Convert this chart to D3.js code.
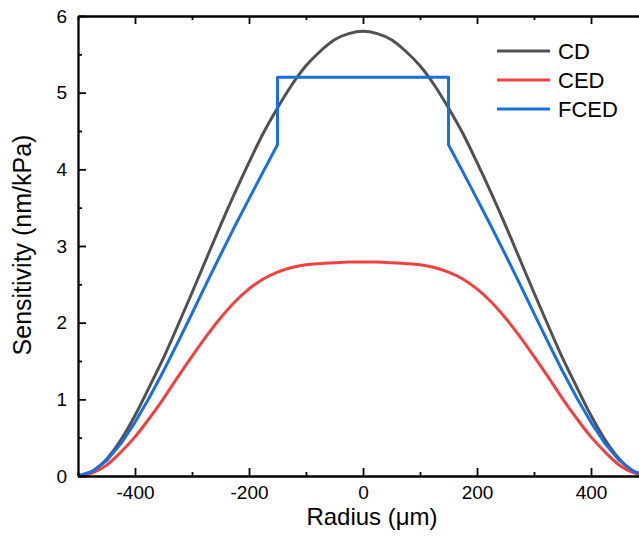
<!DOCTYPE html>
<html>
<head>
<meta charset="utf-8">
<script src="https://cdn.jsdelivr.net/npm/d3@7"></script>
<style>
  body { margin: 0; background: #fff; }
  svg { display: block; font-family: "Liberation Sans", Arial, sans-serif; }
</style>
</head>
<body>
<svg id="chart" width="639" height="547"></svg>
<script>
// radius grid (um) for CD and CED
const radius = [-500,-475,-450,-425,-400,-375,-350,-325,-300,-275,-250,-225,-200,-175,-150,-125,-100,-75,-50,-25,
  0,25,50,75,100,125,150,175,200,225,250,275,300,325,350,375,400,425,450,475,500];

const cd = [0.00,0.06,0.22,0.47,0.79,1.16,1.54,1.96,2.39,2.83,3.27,3.69,4.09,4.47,4.80,5.10,5.35,5.54,5.69,5.77,
  5.80,5.77,5.69,5.54,5.35,5.10,4.80,4.47,4.09,3.69,3.27,2.83,2.39,1.96,1.54,1.16,0.79,0.47,0.22,0.06,0.00];

const ced = [0.00,0.04,0.14,0.31,0.51,0.75,1.01,1.29,1.56,1.82,2.06,2.27,2.44,2.57,2.66,2.72,2.755,2.77,2.78,2.79,
  2.79,2.79,2.78,2.77,2.755,2.72,2.66,2.57,2.44,2.27,2.06,1.82,1.56,1.29,1.01,0.75,0.51,0.31,0.14,0.04,0.00];

// FCED has its own grid: flat top between the two steps at +-150
const fcedRadius = [-500,-475,-450,-425,-400,-375,-350,-325,-300,-275,-250,-225,-200,-175,-150,-150,
  150,150,175,200,225,250,275,300,325,350,375,400,425,450,475,500];
const fced = [0.00,0.06,0.20,0.42,0.70,1.02,1.37,1.74,2.12,2.505,2.885,3.255,3.615,3.97,4.32,5.20,
  5.20,4.32,3.97,3.615,3.255,2.885,2.505,2.12,1.74,1.37,1.02,0.70,0.42,0.20,0.06,0.00];

const xMajor = [-400,-200,0,200,400];
const xMinor = [-500,-300,-100,100,300,500];
const yMajor = [0,1,2,3,4,5,6];
const yMinor = [0.5,1.5,2.5,3.5,4.5,5.5];

const seriesNames = ["CD","CED","FCED"];
const seriesColors = ["#515151","#F14040","#1A6FDF"];

const svg = d3.select("#chart");
const m = {left: 78, right: 648, top: 16, bottom: 476};

const x = d3.scaleLinear().domain([-500,500]).range([m.left,m.right]);
const y = d3.scaleLinear().domain([0,6]).range([m.bottom,m.top]);

const line = d3.line()
  .x(d => x(d[0]))
  .y(d => y(d[1]));

const series = [
  {name: "CD", pts: d3.zip(radius, cd), curve: d3.curveMonotoneX},
  {name: "CED", pts: d3.zip(radius, ced), curve: d3.curveMonotoneX},
  {name: "FCED", pts: d3.zip(fcedRadius, fced), curve: d3.curveLinear}
];

svg.append("g")
  .selectAll("path")
  .data(series)
  .enter().append("path")
  .attr("fill", "none")
  .attr("stroke", (d, i) => seriesColors[i])
  .attr("stroke-width", 3)
  .attr("stroke-linejoin", "round")
  .attr("d", d => line.curve(d.curve)(d.pts));

// axes, ticks pointing inward
function styleAxis(g, size) {
  g.attr("font-family", null);
  g.selectAll(".domain").attr("stroke", "#000").attr("stroke-width", 1.8);
  g.selectAll(".tick line").attr("stroke", "#000").attr("stroke-width", 1.8);
  g.selectAll(".tick text").attr("fill", "#000").style("font-size", size + "px");
}

const xAxis = svg.append("g")
  .attr("transform", "translate(0," + m.bottom + ")")
  .call(d3.axisBottom(x).tickValues(xMajor).tickSize(-8).tickSizeOuter(0).tickPadding(10)
    .tickFormat(d => d < 0 ? "-" + Math.abs(d) : String(d)));
styleAxis(xAxis, 19);

svg.append("g")
  .attr("transform", "translate(0," + m.bottom + ")")
  .call(d3.axisBottom(x).tickValues(xMinor).tickSize(-4).tickSizeOuter(0).tickFormat(""))
  .call(g => styleAxis(g, 19));

const yAxis = svg.append("g")
  .attr("transform", "translate(" + m.left + ",0)")
  .call(d3.axisLeft(y).tickValues(yMajor).tickSize(-8).tickSizeOuter(0).tickPadding(11)
    .tickFormat(d3.format("d")));
styleAxis(yAxis, 19);

svg.append("g")
  .attr("transform", "translate(" + m.left + ",0)")
  .call(d3.axisLeft(y).tickValues(yMinor).tickSize(-4).tickSizeOuter(0).tickFormat(""))
  .call(g => styleAxis(g, 19));

// top and right frame
svg.append("g")
  .attr("transform", "translate(0," + m.top + ")")
  .call(d3.axisTop(x).tickValues(xMajor).tickSize(-8).tickSizeOuter(0).tickFormat(""))
  .call(g => styleAxis(g, 19));
svg.append("g")
  .attr("transform", "translate(0," + m.top + ")")
  .call(d3.axisTop(x).tickValues(xMinor).tickSize(-4).tickSizeOuter(0).tickFormat(""))
  .call(g => styleAxis(g, 19));
svg.append("g")
  .attr("transform", "translate(" + m.right + ",0)")
  .call(d3.axisRight(y).tickValues(yMajor).tickSize(-8).tickSizeOuter(0).tickFormat(""))
  .call(g => styleAxis(g, 19));

// titles
svg.append("text")
  .attr("x", 372)
  .attr("y", 525)
  .attr("text-anchor", "middle")
  .style("font-size", "24px")
  .text("Radius (μm)");

svg.append("text")
  .attr("transform", "translate(31," + (y(3) - 1) + ") rotate(-90)")
  .attr("text-anchor", "middle")
  .style("font-size", "25px")
  .text("Sensitivity (nm/kPa)");

// legend
const legend = svg.append("g")
  .selectAll("g")
  .data(seriesNames)
  .enter().append("g")
  .attr("transform", (d, i) => "translate(497," + (51 + i * 29) + ")");

legend.append("line")
  .attr("x1", 0).attr("x2", 53)
  .attr("stroke", (d, i) => seriesColors[i])
  .attr("stroke-width", 3);

legend.append("text")
  .attr("x", 61)
  .attr("dy", "0.36em")
  .style("font-size", "22px")
  .text(d => d);
</script>
</body>
</html>
